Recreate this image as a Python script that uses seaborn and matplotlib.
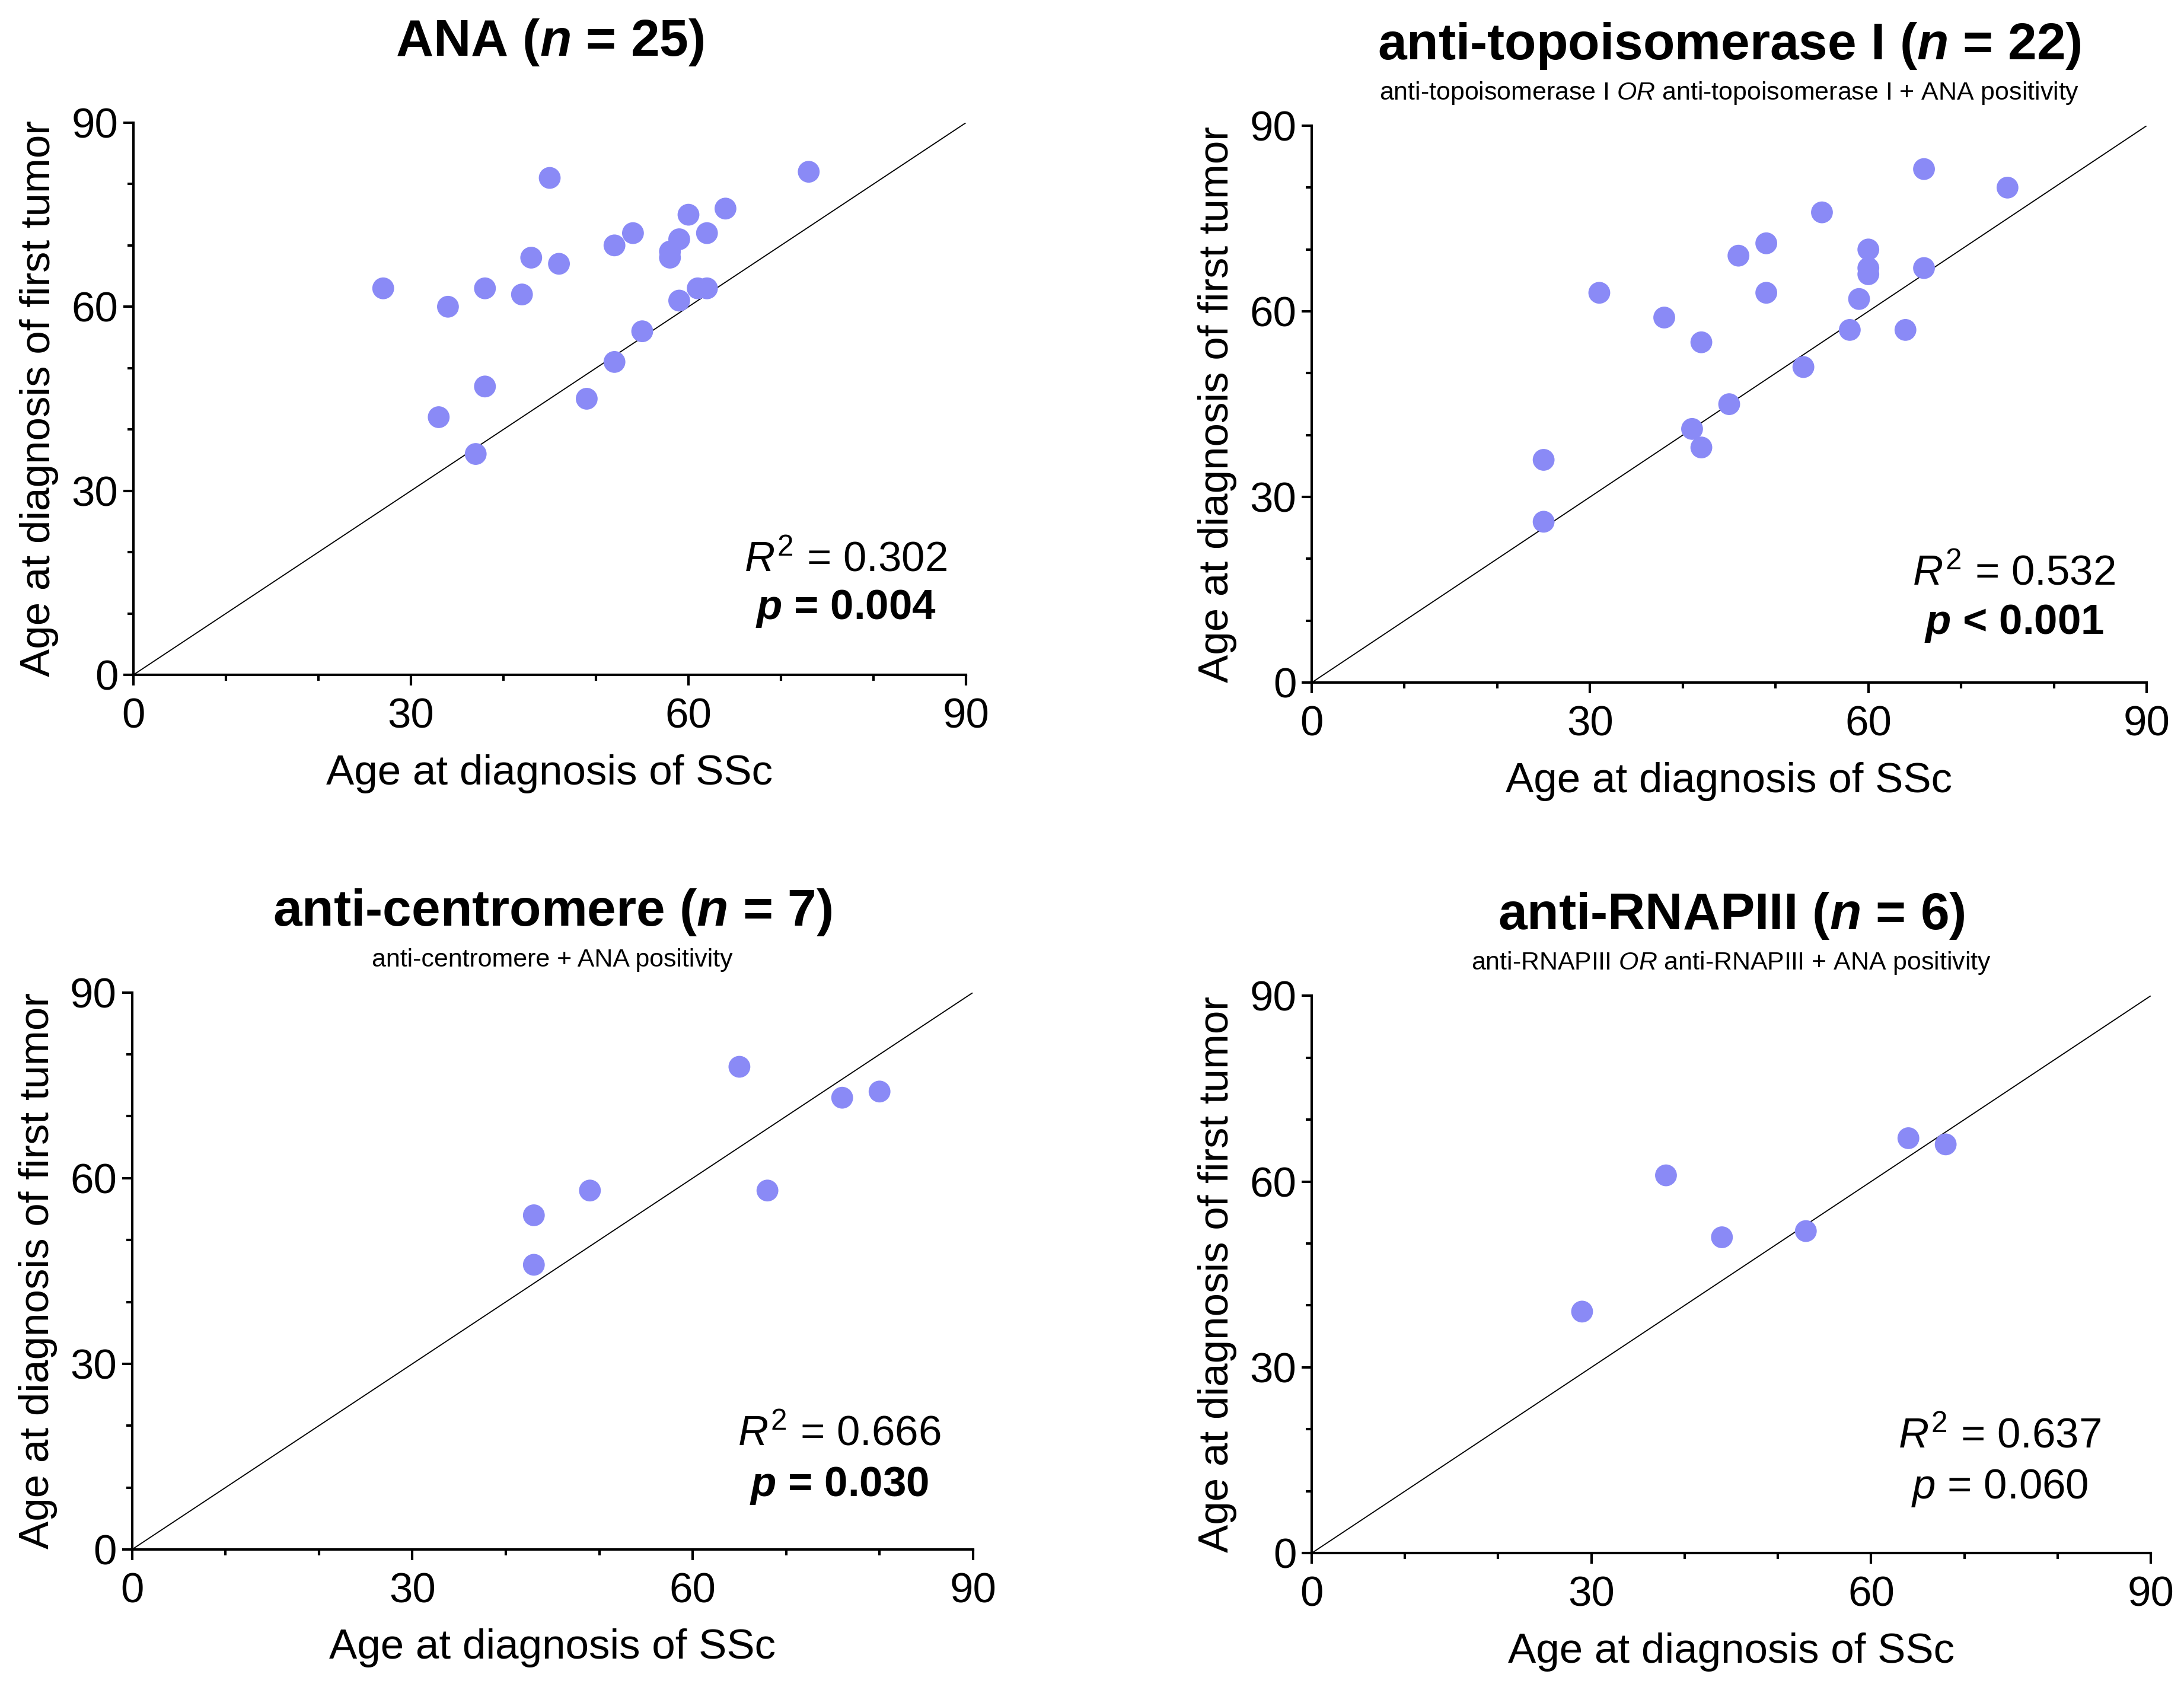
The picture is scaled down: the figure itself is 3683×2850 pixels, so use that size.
import numpy as np
import pandas as pd
import matplotlib
matplotlib.use("Agg")
import matplotlib.pyplot as plt
from matplotlib.ticker import MultipleLocator, FixedLocator
import seaborn as sns

# ---------------- data ----------------
ana_ssc = [27, 34, 38, 42, 43, 45, 46, 52, 54, 58, 58, 59, 60, 62, 64, 73, 61, 62, 59, 55, 52, 49, 38, 33, 37]
ana_tumor = [63, 60, 63, 62, 68, 81, 67, 70, 72, 69, 68, 71, 75, 72, 76, 82, 63, 63, 61, 56, 51, 45, 47, 42, 36]

topo_ssc = [25, 25, 31, 38, 42, 41, 42, 45, 46, 49, 49, 53, 55, 58, 59, 60, 60, 60, 64, 66, 66, 75]
topo_tumor = [36, 26, 63, 59, 55, 41, 38, 45, 69, 71, 63, 51, 76, 57, 62, 70, 67, 66, 57, 67, 83, 80]

centro_ssc = [43, 43, 49, 65, 68, 76, 80]
centro_tumor = [54, 46, 58, 78, 58, 73, 74]

rnap_ssc = [29, 38, 44, 53, 64, 68]
rnap_tumor = [39, 61, 51, 52, 67, 66]

titles = [r"ANA ($\mathbfit{n}$ = 25)",
          r"anti-topoisomerase I ($\mathbfit{n}$ = 22)",
          r"anti-centromere ($\mathbfit{n}$ = 7)",
          r"anti-RNAPIII ($\mathbfit{n}$ = 6)"]
subtitles = [None,
             r"anti-topoisomerase I $\mathit{OR}$ anti-topoisomerase I + ANA positivity",
             "anti-centromere + ANA positivity",
             r"anti-RNAPIII $\mathit{OR}$ anti-RNAPIII + ANA positivity"]
r2_values = ["0.302", "0.532", "0.666", "0.637"]
p_texts = ["= 0.004", "< 0.001", "= 0.030", "= 0.060"]
p_bold = [True, True, True, False]

major_ticks = [0, 30, 60, 90]
axis_min, axis_max = 0, 90
xlabel = "Age at diagnosis of SSc"
ylabel = "Age at diagnosis of first tumor"

groups = [(ana_ssc, ana_tumor), (topo_ssc, topo_tumor),
          (centro_ssc, centro_tumor), (rnap_ssc, rnap_tumor)]

# ---------------- style ----------------
sns.set_theme(style="ticks")
plt.rcParams["font.family"] = ["Liberation Sans", "DejaVu Sans"]
plt.rcParams["text.color"] = "black"
plt.rcParams["axes.labelcolor"] = "black"
plt.rcParams["xtick.color"] = "black"
plt.rcParams["ytick.color"] = "black"
plt.rcParams["mathtext.fontset"] = "custom"
plt.rcParams["mathtext.rm"] = "Liberation Sans"
plt.rcParams["mathtext.it"] = "Liberation Sans:italic"
plt.rcParams["mathtext.bf"] = "Liberation Sans:bold"
plt.rcParams["mathtext.bfit"] = "Liberation Sans:bold:italic"

marker_color = "#8A8AF6"

fig = plt.figure(figsize=(3683 / 300, 2850 / 300), dpi=300)

axes_rects = [
    [0.0611, 0.6007, 0.3812, 0.3267],
    [0.6006, 0.5961, 0.3823, 0.3295],
    [0.0605, 0.0832, 0.3850, 0.3295],
    [0.6006, 0.0810, 0.3842, 0.3298],
]
annot_pos = [(77.0, 16.9, 9.1), (75.7, 15.8, 7.9), (75.7, 16.9, 8.6), (73.8, 17.1, 8.8)]

for i, (xs, ys) in enumerate(groups):
    ax = fig.add_axes(axes_rects[i])
    df = pd.DataFrame({"ssc": xs, "tumor": ys})
    sns.scatterplot(data=df, x="ssc", y="tumor", ax=ax, color=marker_color,
                    s=78, edgecolor="none", linewidth=0, zorder=3, clip_on=False)
    ident = [axis_min, axis_max]
    ax.plot(ident, ident, color="black", lw=0.45, zorder=2)

    ax.set_xlim(axis_min, axis_max)
    ax.set_ylim(axis_min, axis_max)
    ax.xaxis.set_major_locator(FixedLocator(major_ticks))
    ax.yaxis.set_major_locator(FixedLocator(major_ticks))
    ax.xaxis.set_minor_locator(MultipleLocator(10))
    ax.yaxis.set_minor_locator(MultipleLocator(10))
    sns.despine(ax=ax)
    for sp in ["left", "bottom"]:
        ax.spines[sp].set_linewidth(1.0)
        ax.spines[sp].set_color("black")
    ax.tick_params(axis="both", which="major", length=4.2, width=1.0, color="black",
                   labelsize=17, labelcolor="black", direction="out")
    ax.tick_params(axis="both", which="minor", length=2.4, width=1.0, color="black",
                   direction="out")
    ax.tick_params(axis="x", which="major", pad=5)
    ax.tick_params(axis="y", which="major", pad=2)
    ax.set_xlabel(xlabel, fontsize=17, labelpad=7, color="black")
    ax.set_ylabel(ylabel, fontsize=17, labelpad=5, color="black")
    ax.grid(False)

    ax.annotate(titles[i], xy=(0.5, 1.0), xycoords="axes fraction",
                xytext=(0, 27), textcoords="offset points",
                ha="center", va="baseline", fontsize=21, fontweight="bold",
                color="black")
    if subtitles[i]:
        ax.annotate(subtitles[i], xy=(0.5, 1.0), xycoords="axes fraction",
                    xytext=(0, 10.5), textcoords="offset points",
                    ha="center", va="baseline", fontsize=10.3, color="black")

    ax_x, ry, py = annot_pos[i]
    ax.text(ax_x, ry, r"$R^2$ = " + r2_values[i], ha="center", va="baseline",
            fontsize=17, color="black")
    if p_bold[i]:
        ax.text(ax_x, py, r"$\mathbfit{p}$ " + p_texts[i], ha="center", va="baseline",
                fontsize=17, fontweight="bold", color="black")
    else:
        ax.text(ax_x, py, r"$\mathit{p}$ " + p_texts[i], ha="center", va="baseline",
                fontsize=17, color="black")

fig.savefig("out.png", dpi=300, facecolor="white")
